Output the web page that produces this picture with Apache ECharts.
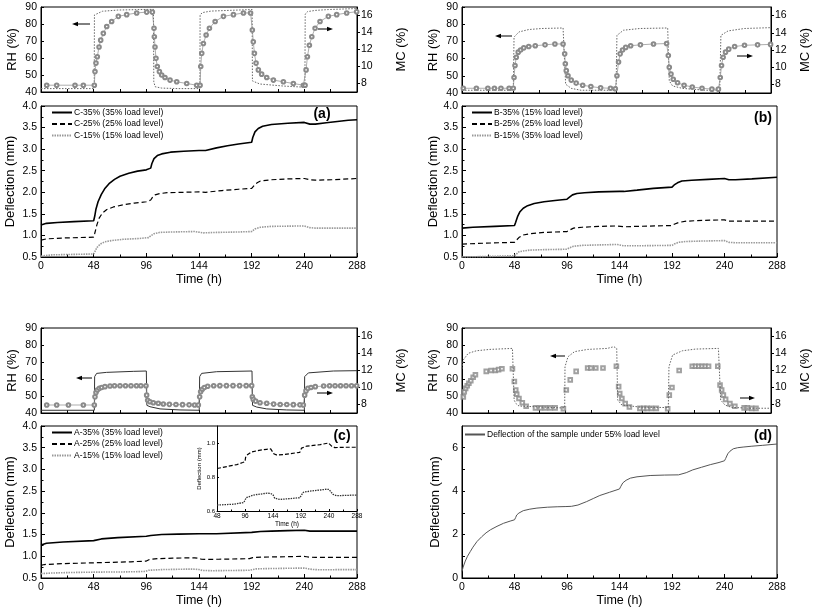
<!DOCTYPE html>
<html><head><meta charset="utf-8">
<script src="https://cdn.jsdelivr.net/npm/echarts@6/dist/echarts.min.js"></script>
<style>html,body{margin:0;padding:0;background:#fff}#c{width:813px;height:608px}</style>
</head><body><div id="c"></div>
<script>
// ---------- tick labels ----------
const MC_TICKS = [8, 10, 12, 14, 16];
const D_TICKS = [0, 2, 4, 6];
const D_MINOR = [0, 1, 2, 3, 4, 5, 6];
const INSET_TICKS = [0.6, 0.8, 1.0];

// ---------- panel (a) ----------
const T_RH_A = [0, 48.5, 48.7, 50, 56, 70, 90, 102.5, 102.8, 104, 110, 125, 144.8, 145, 147, 155, 175, 192.4, 192.7, 199.5, 221, 240.5, 240.8, 243, 250, 262, 275, 288];
const RH_A = [42, 42, 85.3, 86.3, 87.5, 88.2, 88.5, 88.6, 46, 43.1, 42.3, 42, 42, 85.3, 86.7, 87.6, 88.1, 88.5, 46.5, 44.7, 43.5, 42.8, 85.9, 87.3, 88, 88.5, 88.8, 89.1];
const T_MC_A = [5.2, 14.3, 31, 38.6, 48.6, 49.2, 50.1, 51.3, 52.9, 54.4, 56.8, 59.9, 64.4, 70.5, 78.1, 87.2, 96.3, 101.5, 103, 103.3, 103.9, 104.8, 106, 107.9, 110, 113, 117.6, 123.7, 132.8, 141.9, 145, 145.6, 146.5, 148, 150.5, 153.5, 158.7, 166.3, 175.4, 184.5, 191, 192.6, 193.5, 194.5, 196, 198.1, 201.1, 205.7, 211.8, 220.9, 230, 239.1, 240.7, 241.6, 242.8, 244.6, 246.8, 249.8, 254.3, 261.9, 269.5, 278.6, 287.7];
const MC_A = [7.8, 7.8, 7.8, 7.8, 7.8, 9.4, 10.4, 11.15, 12.3, 13.1, 13.9, 14.7, 15.3, 15.9, 16.1, 16.3, 16.4, 16.4, 14.5, 13.5, 12.3, 10.96, 10.0, 9.4, 9.0, 8.7, 8.4, 8.2, 8.0, 7.8, 7.8, 10, 11.55, 12.7, 13.7, 14.5, 15.3, 15.9, 16.1, 16.3, 16.3, 14.3, 12.9, 11.55, 10.4, 9.6, 9.1, 8.7, 8.4, 8.2, 8.0, 7.8, 7.8, 9.6, 11.15, 12.5, 13.5, 14.5, 15.3, 15.9, 16.1, 16.3, 16.45];
const T_C35 = [0, 5, 15, 30, 48, 49, 50, 52, 55, 58, 62, 67, 72, 80, 88, 96, 100, 101, 103, 106, 110, 118, 130, 144, 150, 160, 170, 180, 192, 193, 195, 198, 202, 210, 225, 240, 245, 250, 260, 270, 280, 288];
const C35 = [1.24, 1.28, 1.3, 1.32, 1.34, 1.45, 1.6, 1.78, 1.95, 2.08, 2.2, 2.3, 2.37, 2.44, 2.49, 2.52, 2.56, 2.66, 2.78, 2.85, 2.89, 2.93, 2.95, 2.97, 2.97, 3.03, 3.08, 3.12, 3.16, 3.27, 3.4, 3.48, 3.53, 3.57, 3.6, 3.62, 3.58, 3.58, 3.61, 3.64, 3.67, 3.68];
const T_C25 = [0, 5, 20, 48, 49, 51, 53, 56, 60, 66, 75, 85, 96, 100, 102, 104, 108, 115, 130, 144, 150, 165, 180, 192, 194, 197, 200, 210, 225, 240, 245, 250, 265, 288];
const C25 = [0.89, 0.92, 0.94, 0.96, 1.05, 1.25, 1.4, 1.52, 1.6, 1.66, 1.71, 1.75, 1.78, 1.82, 1.9, 1.94, 1.97, 1.99, 2.0, 2.01, 2.0, 2.04, 2.07, 2.09, 2.15, 2.22, 2.26, 2.29, 2.31, 2.32, 2.29, 2.28, 2.29, 2.32];
const T_C15 = [0, 10, 48, 49, 51, 54, 58, 64, 75, 90, 98, 100, 103, 108, 120, 140, 148, 160, 180, 192, 195, 200, 210, 240, 245, 250, 288];
const C15 = [0.52, 0.55, 0.57, 0.62, 0.72, 0.8, 0.85, 0.88, 0.91, 0.93, 0.95, 0.99, 1.04, 1.07, 1.08, 1.09, 1.06, 1.07, 1.08, 1.09, 1.15, 1.19, 1.21, 1.22, 1.18, 1.17, 1.17];

// ---------- panel (b) ----------
const T_RH_B = [0, 47.8, 48.5, 53.1, 62.2, 74.4, 94.2, 95.7, 96.6, 101.8, 110.9, 143.6, 144.4, 150.5, 165.8, 191.7, 192.3, 193.2, 196.3, 205.4, 226.7, 240.2, 241.3, 248, 263.3, 288];
const RH_B = [41.6, 41.6, 72.5, 75.5, 76.9, 77.5, 77.8, 77.8, 45.1, 42.7, 41.6, 41.6, 73.5, 76.5, 77.5, 77.8, 77.8, 47, 44.1, 42.7, 41.6, 41.6, 73.5, 76.1, 77.5, 78.0];
const T_MC_B = [1.2, 13.4, 24.1, 30.2, 36.3, 43.9, 47.8, 48.5, 49.4, 50.6, 52.4, 54.6, 57.6, 62.2, 68.3, 77.4, 86.6, 94.2, 95.7, 96.3, 97.2, 98.8, 101.8, 106.4, 112.5, 120.1, 129.2, 138.4, 142.9, 144.4, 145.9, 147.4, 149.6, 152.6, 157.2, 166.3, 178.5, 190.7, 192.3, 193.2, 194.8, 196.9, 200.9, 207, 214.6, 223.7, 232.9, 239, 240.7, 241.9, 243.4, 245.6, 248.6, 254.1, 263.3, 275.5, 287.6];
const MC_B = [7.55, 7.55, 7.55, 7.55, 7.55, 7.55, 7.55, 8.8, 10.2, 11.15, 11.75, 12.0, 12.25, 12.4, 12.5, 12.6, 12.7, 12.7, 11.55, 10.4, 9.6, 9.0, 8.5, 8.15, 7.9, 7.75, 7.6, 7.55, 7.5, 9.0, 10.6, 11.55, 12.0, 12.3, 12.5, 12.6, 12.7, 12.75, 11.35, 10.0, 9.2, 8.6, 8.2, 7.9, 7.7, 7.55, 7.45, 7.45, 8.8, 10.2, 11.15, 11.75, 12.1, 12.4, 12.55, 12.6, 12.65];
const T_B35 = [0, 10, 30, 48, 49, 51, 53, 56, 60, 66, 75, 85, 96, 98, 101, 105, 112, 125, 144, 148, 160, 175, 192, 194, 197, 201, 210, 225, 240, 244, 250, 265, 288];
const B35 = [1.17, 1.19, 1.21, 1.23, 1.3, 1.45, 1.55, 1.63, 1.69, 1.74, 1.78, 1.81, 1.84, 1.88, 1.94, 1.97, 1.99, 2.01, 2.02, 2.02, 2.05, 2.09, 2.12, 2.17, 2.22, 2.26, 2.28, 2.3, 2.32, 2.29, 2.29, 2.31, 2.35];
const T_B = [0, 20, 48, 49, 52, 56, 62, 75, 96, 98, 102, 110, 125, 142, 148, 160, 192, 194, 198, 205, 220, 240, 244, 250, 288];
const B25 = [0.8, 0.82, 0.84, 0.88, 0.95, 1.01, 1.04, 1.07, 1.09, 1.12, 1.17, 1.19, 1.21, 1.22, 1.2, 1.21, 1.23, 1.26, 1.3, 1.33, 1.35, 1.36, 1.33, 1.33, 1.33];
const B15 = [0.5, 0.51, 0.53, 0.57, 0.62, 0.64, 0.66, 0.67, 0.68, 0.71, 0.75, 0.77, 0.78, 0.79, 0.76, 0.76, 0.77, 0.8, 0.84, 0.86, 0.87, 0.88, 0.84, 0.83, 0.83];

// ---------- panel (c) ----------
const T_RH_C = [0, 48.6, 48.9, 50.7, 59.8, 84.1, 96, 96.5, 99.3, 108.5, 126.7, 144.2, 144.6, 146.4, 160.1, 192.3, 192.8, 196.6, 205.7, 223.9, 240, 240.3, 243.7, 266.4, 288];
const RH_C = [41.6, 41.6, 61.4, 63.3, 63.9, 64.5, 64.7, 44.5, 43.7, 42.4, 41.8, 41.6, 61.4, 63.3, 64.3, 64.7, 44.5, 43.5, 42.4, 41.8, 41.6, 61.4, 63.6, 64.7, 64.9];
const T_MC_C = [5.2, 14.3, 25, 38.6, 48.6, 49.2, 50.1, 51.3, 53.2, 55.3, 58.3, 62.9, 67, 72, 77, 82, 87, 91, 95.7, 96.3, 97.2, 99.3, 102.4, 106.9, 111.5, 117, 123, 129, 135, 140, 143.4, 144.6, 145.5, 147, 148.9, 151.9, 157.4, 163, 169, 175, 181, 187, 192, 192.6, 193.5, 195.6, 199.6, 205.7, 212, 218, 224, 230, 236, 239.1, 240.3, 241.5, 243.3, 246.1, 250, 257.6, 263, 268, 273, 278, 283, 287.7];
const MC_C = [7.94, 7.94, 7.94, 7.94, 7.94, 8.9, 9.4, 9.7, 9.9, 10.0, 10.1, 10.18, 10.2, 10.2, 10.2, 10.2, 10.2, 10.2, 10.2, 9.1, 8.5, 8.33, 8.2, 8.15, 8.06, 8.02, 8.0, 7.98, 7.96, 7.94, 7.94, 8.9, 9.5, 9.8, 10.0, 10.15, 10.2, 10.22, 10.22, 10.22, 10.22, 10.22, 10.22, 8.9, 8.6, 8.4, 8.2, 8.15, 8.05, 8.0, 8.0, 7.98, 7.96, 7.94, 9.1, 9.6, 9.9, 10.0, 10.1, 10.17, 10.2, 10.2, 10.2, 10.2, 10.2, 10.2];
const T_A35 = [0, 5, 20, 48, 55, 70, 96, 100, 110, 125, 144, 160, 192, 200, 210, 225, 240, 245, 250, 288];
const A35 = [1.26, 1.3, 1.33, 1.36, 1.4, 1.43, 1.46, 1.48, 1.5, 1.51, 1.52, 1.52, 1.55, 1.57, 1.58, 1.59, 1.6, 1.58, 1.58, 1.58];
const T_A25 = [0, 3, 20, 48, 82, 92, 96, 97, 99, 107, 120, 133, 140, 143, 146, 150, 162, 190, 193, 202, 225, 239, 242, 245, 250, 270, 288];
const A25 = [0.79, 0.81, 0.83, 0.85, 0.873, 0.885, 0.89, 0.915, 0.928, 0.947, 0.957, 0.963, 0.965, 0.955, 0.935, 0.93, 0.932, 0.945, 0.97, 0.982, 0.99, 1.0, 0.99, 0.98, 0.973, 0.975, 0.975];
const T_A15 = [0, 10, 30, 48, 77, 94, 96, 98, 111, 134, 140, 144, 147, 156, 190, 193, 196, 207, 236, 240, 244, 247, 253, 288];
const A15 = [0.6, 0.615, 0.628, 0.635, 0.64, 0.65, 0.66, 0.678, 0.694, 0.705, 0.703, 0.695, 0.675, 0.668, 0.678, 0.695, 0.71, 0.717, 0.728, 0.727, 0.71, 0.698, 0.69, 0.694];

// ---------- panel (d) ----------
const T_RH_D = [0, 0.3, 1.2, 5.8, 13.4, 25.6, 47, 48.3, 48.6, 50.1, 53.1, 74.4, 92.7, 95.7, 96, 98.8, 104.9, 117.1, 135.4, 141.5, 144.2, 145.1, 149, 165.8, 190.2, 192.3, 192.9, 196.3, 205.4, 217.6, 239, 240.4, 241.1, 245.1, 251.2, 269.5, 288];
const RH_D = [66, 68, 71.2, 75.1, 76.6, 77.4, 78, 78, 47.6, 45.7, 44.1, 43.5, 43, 43, 67.2, 73.1, 76.1, 77.4, 78, 79, 78, 47.6, 44.7, 43.5, 43.2, 43.2, 67.2, 74.1, 76.6, 77.6, 78, 78, 47.6, 44.7, 43.3, 42.8, 42.8];
const T_MC_D = [1.2, 2.1, 3.4, 4.9, 6.4, 8.2, 10.4, 12.5, 22.6, 27.1, 31.1, 34.1, 37.2, 47, 48.8, 50.1, 51, 53.1, 56.2, 59.8, 68.5, 73.1, 77.7, 82.3, 86.8, 94.5, 97.2, 100.9, 106.4, 117.1, 120.1, 124.7, 131.4, 143.9, 146, 147, 149, 152.1, 156, 165.8, 169.4, 172.5, 176.5, 181.1, 191.7, 193.2, 195.7, 202.4, 214.6, 217.6, 220.7, 223.7, 226.7, 229.8, 238.4, 240.5, 242, 243.6, 245.7, 249.7, 254.3, 263, 266, 270, 274];
const MC_D = [8.9, 9.5, 9.9, 10.2, 10.5, 10.8, 11.2, 11.5, 11.9, 12.0, 12.0, 12.1, 12.2, 12.2, 10.7, 9.7, 9.2, 8.7, 8.2, 7.8, 7.6, 7.6, 7.6, 7.6, 7.6, 7.5, 9.7, 10.9, 11.9, 12.3, 12.3, 12.3, 12.3, 12.5, 10.1, 9.3, 8.7, 8.1, 7.7, 7.55, 7.55, 7.55, 7.55, 7.55, 7.5, 9.1, 10.0, 12.0, 12.5, 12.5, 12.5, 12.5, 12.5, 12.5, 12.5, 10.3, 9.7, 9.1, 8.6, 8.1, 7.8, 7.6, 7.6, 7.55, 7.55];
const T_D55 = [0, 1, 3, 5, 7.6, 10, 13.7, 18, 22, 26, 32, 38, 44, 48, 49, 50, 52, 56, 62, 68.5, 78, 87, 95, 100, 106, 114, 120, 126, 135, 144, 145, 147, 150, 154, 160, 172, 185, 198, 205, 211, 219, 227, 235, 240, 241, 243, 245, 248, 252, 257, 265, 275, 288];
const D55 = [0.3, 0.5, 0.78, 1.0, 1.22, 1.42, 1.68, 1.9, 2.08, 2.22, 2.38, 2.52, 2.62, 2.68, 2.78, 2.9, 2.99, 3.1, 3.17, 3.22, 3.26, 3.28, 3.29, 3.3, 3.36, 3.52, 3.66, 3.8, 3.95, 4.1, 4.2, 4.38, 4.5, 4.6, 4.66, 4.72, 4.74, 4.75, 4.85, 4.98, 5.1, 5.22, 5.32, 5.4, 5.5, 5.72, 5.84, 5.95, 6.0, 6.03, 6.07, 6.11, 6.17];

// ---------- names ----------
const NAMES_A = ['C-35% (35% load level)', 'C-25% (25% load level)', 'C-15% (15% load level)'];
const NAMES_B = ['B-35% (15% load level)', 'B-25% (25% load level)', 'B-15% (35% load level)'];
const NAMES_C = ['A-35% (35% load level)', 'A-25% (25% load level)', 'A-15% (15% load level)'];
const NAME_D = 'Deflection of the sample under 55% load level';

// ================= build =================
const FONT = 'Liberation Sans';
const zip = (t, v) => t.map((x, i) => [x, v[i]]);
const zipFrom = (t, v, t0) => zip(t, v).filter(p => p[0] >= t0);
const BLK = '#000';
const axLine = { show: true, onZero: false, lineStyle: { color: BLK, width: 1 } };
const lab = (fs) => ({ color: BLK, fontSize: fs, fontFamily: FONT });

const L = 41, LW = 316, R = 462, RW = 315;
const grids = [
  { left: L, top: 7, width: LW, height: 85 },
  { left: L, top: 106, width: LW, height: 151 },
  { left: R, top: 7, width: RW, height: 86 },
  { left: R, top: 106, width: RW, height: 151 },
  { left: L, top: 328, width: LW, height: 85 },
  { left: L, top: 426, width: LW, height: 152 },
  { left: R, top: 328, width: RW, height: 85 },
  { left: R, top: 426, width: RW, height: 152 },
  { left: 217, top: 426, width: 140, height: 85 }
].map((g, i) => Object.assign({ show: i < 8, borderColor: BLK, borderWidth: 1, backgroundColor: 'transparent', containLabel: false }, g));

function xTop(g) {
  return { type: 'value', gridIndex: g, min: 0, max: 288, interval: 24, axisLine: axLine,
    axisTick: { inside: true, length: 3, lineStyle: { color: BLK } }, axisLabel: { show: false }, splitLine: { show: false } };
}
function xBot(g) {
  return { type: 'value', gridIndex: g, min: 0, max: 288, interval: 48, axisLine: axLine,
    axisTick: { inside: true, length: 4, lineStyle: { color: BLK } },
    minorTick: { show: true, splitNumber: 2, length: 2.5, lineStyle: { color: BLK } },
    axisLabel: Object.assign({ margin: 4 }, lab(10.5)), splitLine: { show: false }, minorSplitLine: { show: false },
    name: 'Time (h)', nameLocation: 'middle', nameGap: 16, nameTextStyle: lab(12.5) };
}
function yRH(g, gap) {
  return { type: 'value', gridIndex: g, position: 'left', min: 40, max: 90, interval: 10, axisLine: axLine,
    axisTick: { inside: true, length: 3, lineStyle: { color: BLK } }, axisLabel: Object.assign({ margin: 4 }, lab(10.5)),
    splitLine: { show: false }, name: 'RH (%)', nameLocation: 'middle', nameRotate: 90, nameGap: gap, nameTextStyle: lab(13) };
}
function yMC(g, gap) {
  return { type: 'value', gridIndex: g, position: 'right', min: 7, max: 17, axisLine: axLine,
    axisTick: { customValues: MC_TICKS, length: 3, lineStyle: { color: BLK } },
    axisLabel: Object.assign({ customValues: MC_TICKS, margin: 4 }, lab(10.5)),
    splitLine: { show: false }, name: 'MC (%)', nameLocation: 'middle', nameRotate: 90, nameGap: gap, nameTextStyle: lab(13) };
}
function yDef(g, gap) {
  return { type: 'value', gridIndex: g, min: 0.5, max: 4.0, interval: 0.5, axisLine: axLine,
    axisTick: { inside: true, length: 4, lineStyle: { color: BLK } },
    minorTick: { show: true, splitNumber: 2, length: 2.5, lineStyle: { color: BLK } },
    axisLabel: Object.assign({ margin: 4, formatter: v => v.toFixed(1) }, lab(10.5)),
    splitLine: { show: false }, minorSplitLine: { show: false },
    name: 'Deflection (mm)', nameLocation: 'middle', nameRotate: 90, nameGap: gap, nameTextStyle: lab(13) };
}

const xAxis = [xTop(0), xBot(1), xTop(2), xBot(3), xTop(4), xBot(5), xTop(6), xBot(7),
  { type: 'value', gridIndex: 8, min: 48, max: 288, interval: 48, axisLine: axLine,
    axisTick: { inside: true, length: 2, lineStyle: { color: BLK } },
    minorTick: { show: true, splitNumber: 2, length: 1.5, lineStyle: { color: BLK } },
    axisLabel: Object.assign({ margin: 2 }, lab(6.5)), splitLine: { show: false }, minorSplitLine: { show: false },
    name: 'Time (h)', nameLocation: 'middle', nameGap: 8, nameTextStyle: lab(6.5) }];

const yAxis = [yRH(0, 22), yMC(0, 38), yDef(1, 24),
  yRH(2, 22), yMC(2, 28), yDef(3, 22),
  yRH(4, 22), yMC(4, 38), yDef(5, 24),
  yRH(6, 22), yMC(6, 28),
  { type: 'value', gridIndex: 7, min: 0, max: 7, axisLine: axLine,
    axisTick: { inside: true, customValues: D_MINOR, length: 3, lineStyle: { color: BLK } },
    axisLabel: Object.assign({ customValues: D_TICKS, margin: 4 }, lab(10.5)), splitLine: { show: false },
    name: 'Deflection (mm)', nameLocation: 'middle', nameRotate: 90, nameGap: 20, nameTextStyle: lab(13) },
  { type: 'value', gridIndex: 8, min: 0.6, max: 1.1, axisLine: axLine,
    axisTick: { inside: true, customValues: INSET_TICKS, length: 2, lineStyle: { color: BLK } },
    axisLabel: Object.assign({ customValues: INSET_TICKS, margin: 2, formatter: v => v.toFixed(1) }, lab(6)),
    splitLine: { show: false }, name: 'Deflection (mm)', nameLocation: 'middle', nameRotate: 90, nameGap: 12, nameTextStyle: lab(6) }];

const rhLine = (xi, yi, data, solid) => ({ type: 'line', xAxisIndex: xi, yAxisIndex: yi, data, symbol: 'none', silent: true,
  lineStyle: { color: solid ? '#333' : '#666', width: 1, type: solid ? 'solid' : [1.5, 1.5] }, z: 3 });
const mcLine = (xi, yi, data) => ({ type: 'line', xAxisIndex: xi, yAxisIndex: yi, data, symbol: 'emptyCircle', symbolSize: 3.6, silent: true,
  itemStyle: { color: '#8a8a8a', borderWidth: 0.7 }, lineStyle: { color: '#8a8a8a', width: 0.7 }, z: 4 });
const S35 = { color: '#000', width: 1.6, type: 'solid' };
const S25 = { color: '#000', width: 1.2, type: [5, 3] };
const S15 = { color: '#999', width: 1.6, type: [1.5, 1] };
const defl = (name, xi, yi, data, st) => ({ type: 'line', name, xAxisIndex: xi, yAxisIndex: yi, data, symbol: 'none', silent: true,
  lineStyle: st, itemStyle: { color: st.color } });

const series = [
  rhLine(0, 0, zip(T_RH_A, RH_A)), mcLine(0, 1, zip(T_MC_A, MC_A)),
  defl(NAMES_A[0], 1, 2, zip(T_C35, C35), S35), defl(NAMES_A[1], 1, 2, zip(T_C25, C25), S25), defl(NAMES_A[2], 1, 2, zip(T_C15, C15), S15),
  rhLine(2, 3, zip(T_RH_B, RH_B)), mcLine(2, 4, zip(T_MC_B, MC_B)),
  defl(NAMES_B[0], 3, 5, zip(T_B35, B35), S35), defl(NAMES_B[1], 3, 5, zip(T_B, B25), S25), defl(NAMES_B[2], 3, 5, zip(T_B, B15), S15),
  rhLine(4, 6, zip(T_RH_C, RH_C), true), mcLine(4, 7, zip(T_MC_C, MC_C)),
  defl(NAMES_C[0], 5, 8, zip(T_A35, A35), S35), defl(NAMES_C[1], 5, 8, zip(T_A25, A25), S25), defl(NAMES_C[2], 5, 8, zip(T_A15, A15), S15),
  rhLine(6, 9, zip(T_RH_D, RH_D)),
  { type: 'scatter', xAxisIndex: 6, yAxisIndex: 10, data: zip(T_MC_D, MC_D), symbol: 'emptyRect', symbolSize: 3.6, silent: true,
    itemStyle: { color: '#8a8a8a', borderWidth: 0.7 } },
  defl(NAME_D, 7, 11, zip(T_D55, D55), { color: '#555', width: 1, type: 'solid' }),
  { type: 'line', name: 'inset25', xAxisIndex: 8, yAxisIndex: 12, data: zipFrom(T_A25, A25, 48), symbol: 'none', silent: true,
    lineStyle: { color: '#000', width: 1.2, type: [4, 2] } },
  { type: 'line', name: 'inset15', xAxisIndex: 8, yAxisIndex: 12, data: zipFrom(T_A15, A15, 48), symbol: 'none', silent: true,
    lineStyle: { color: '#333', width: 1.3, type: [1.5, 1] } }
];

const legend = (left, top, names) => ({ left, top, orient: 'vertical', data: names, itemWidth: 20, itemHeight: 8, itemGap: 2.5,
  padding: 0, selectedMode: false, itemStyle: { opacity: 0 },
  textStyle: { fontSize: 8.5, color: '#000', fontFamily: FONT, padding: [0, 0, 0, -3] } });

function arrow(tail, head, y) {
  const d = head > tail ? 1 : -1;
  return { type: 'group', children: [
    { type: 'line', shape: { x1: tail, y1: y, x2: head - d * 4, y2: y }, style: { stroke: '#000', lineWidth: 1 } },
    { type: 'polygon', shape: { points: [[head, y], [head - d * 6, y - 2.2], [head - d * 6, y + 2.2]] }, style: { fill: '#000' } }
  ] };
}
const ptxt = (t, x, y) => ({ type: 'text', x, y, style: { text: t, font: 'bold 14px "Liberation Sans"', fill: '#000', textAlign: 'center', textVerticalAlign: 'middle' } });

const option = {
  animation: false,
  backgroundColor: '#fff',
  textStyle: { fontFamily: FONT },
  grid: grids, xAxis, yAxis, series,
  legend: [legend(51, 108, NAMES_A), legend(471, 108, NAMES_B), legend(51, 428, NAMES_C), legend(464, 430, [NAME_D])],
  graphic: [
    arrow(90, 72, 24), arrow(318, 333, 29),
    arrow(512, 495, 36), arrow(737, 753, 56),
    arrow(92, 76, 378), arrow(317, 333, 393),
    arrow(565, 550, 356), arrow(740, 755, 398),
    ptxt('(a)', 322, 114), ptxt('(b)', 763, 118), ptxt('(c)', 342, 436), ptxt('(d)', 763, 436)
  ]
};
const chart = echarts.init(document.getElementById('c'), null, { renderer: 'canvas' });
chart.setOption(option);
</script></body></html>
